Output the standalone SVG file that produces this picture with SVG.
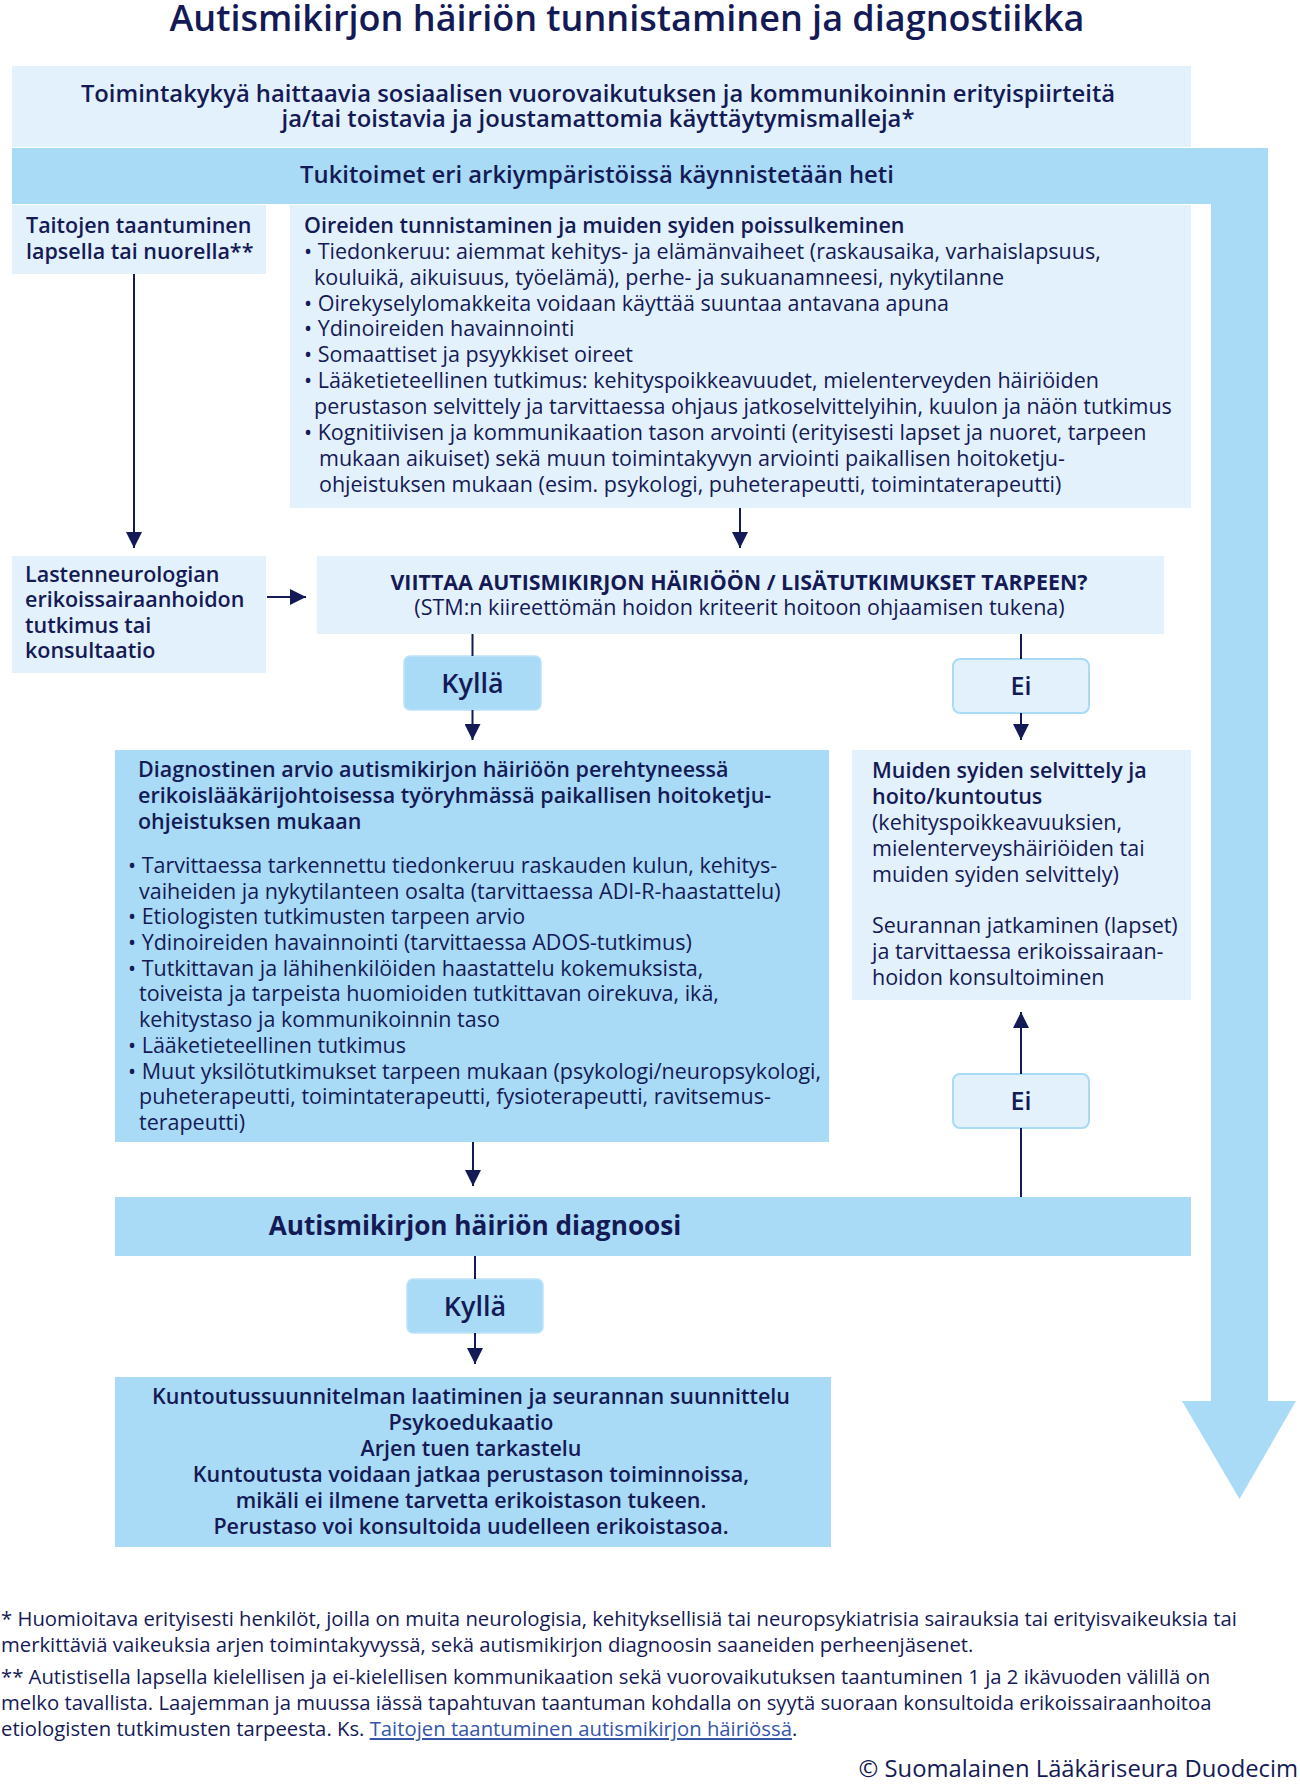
<svg xmlns="http://www.w3.org/2000/svg" width="1300" height="1784" viewBox="0 0 1300 1784">
<style>
text{font-family:"Open Sans","Noto Sans","Liberation Sans",sans-serif;fill:#141a55}
.t{font-size:36px;font-weight:600}
.b{font-weight:600}
.bb{font-weight:700}
.m{font-size:21.5px}
.big{font-size:23.8px;font-weight:600}
.c{text-anchor:middle}
.lt{fill:#e3f1fc}
.md{fill:#a9daf6}
.line{stroke:#141a55;stroke-width:2;fill:none}
.fn{font-size:20.3px}
.lnk{fill:#3556a8;text-decoration:underline}
</style>
<defs>
<marker id="ah" viewBox="0 0 16 16" refX="16" refY="8" markerWidth="16" markerHeight="16" markerUnits="userSpaceOnUse" orient="auto">
<path d="M0,0 L16,8 L0,16 Z" fill="#141a55"/>
</marker>
</defs>
<rect width="1300" height="1784" fill="#ffffff"/>
<text class="t c" x="627" y="31">Autismikirjon häiriön tunnistaminen ja diagnostiikka</text>

<g id="top">
<rect class="lt" x="12" y="66" width="1179" height="81"/>
<text class="big c" x="598" y="102">Toimintakykyä haittaavia sosiaalisen vuorovaikutuksen ja kommunikoinnin erityispiirteitä</text>
<text class="big c" x="598" y="127">ja/tai toistavia ja joustamattomia käyttäytymismalleja*</text>
</g>

<g id="tukitoimet">
<path class="md" d="M12,148 H1268 V1401 H1296 L1239.5,1499 L1182,1401 H1211 V204 H12 Z"/>
<text class="big c" x="597" y="182.5">Tukitoimet eri arkiympäristöissä käynnistetään heti</text>
</g>

<g id="taitojen">
<rect class="lt" x="12" y="205" width="254" height="69"/>
<text class="b m" x="26" y="233">Taitojen taantuminen</text>
<text class="b m" x="26" y="259">lapsella tai nuorella**</text>
</g>

<g id="oireiden">
<rect class="lt" x="290" y="205" width="901" height="303"/>
<text class="m" x="304" y="233"><tspan class="b">Oireiden tunnistaminen ja muiden syiden poissulkeminen</tspan>
<tspan x="304" y="259">• Tiedonkeruu: aiemmat kehitys- ja elämänvaiheet (raskausaika, varhaislapsuus,</tspan>
<tspan x="314" y="285">kouluikä, aikuisuus, työelämä), perhe- ja sukuanamneesi, nykytilanne</tspan>
<tspan x="304" y="311">• Oirekyselylomakkeita voidaan käyttää suuntaa antavana apuna</tspan>
<tspan x="304" y="336">• Ydinoireiden havainnointi</tspan>
<tspan x="304" y="362">• Somaattiset ja psyykkiset oireet</tspan>
<tspan x="304" y="388">• Lääketieteellinen tutkimus: kehityspoikkeavuudet, mielenterveyden häiriöiden</tspan>
<tspan x="314" y="414">perustason selvittely ja tarvittaessa ohjaus jatkoselvittelyihin, kuulon ja näön tutkimus</tspan>
<tspan x="304" y="440">• Kognitiivisen ja kommunikaation tason arvointi (erityisesti lapset ja nuoret, tarpeen</tspan>
<tspan x="319" y="466">mukaan aikuiset) sekä muun toimintakyvyn arviointi paikallisen hoitoketju-</tspan>
<tspan x="319" y="492">ohjeistuksen mukaan (esim. psykologi, puheterapeutti, toimintaterapeutti)</tspan></text>
</g>

<g id="lastenneurologia">
<rect class="lt" x="12" y="556" width="254" height="117"/>
<text class="b m" x="25" y="582">Lastenneurologian</text>
<text class="b m" x="25" y="607">erikoissairaanhoidon</text>
<text class="b m" x="25" y="633">tutkimus tai</text>
<text class="b m" x="25" y="658">konsultaatio</text>
</g>

<g id="viittaa">
<rect class="lt" x="317" y="556" width="847" height="78"/>
<text class="bb c" x="739" y="590" font-size="21.4">VIITTAA AUTISMIKIRJON HÄIRIÖÖN / LISÄTUTKIMUKSET TARPEEN?</text>
<text class="m c" x="739.5" y="615">(STM:n kiireettömän hoidon kriteerit hoitoon ohjaamisen tukena)</text>
</g>

<g id="kylla1">
<rect x="404" y="656" width="137" height="54" rx="6" fill="#a9daf6" stroke="#bde3f9" stroke-width="1.5"/>
<text class="c" x="472.5" y="693" font-size="27" font-weight="600">Kyllä</text>
</g>

<g id="ei1">
<rect x="953" y="659" width="136" height="54" rx="7" fill="#e3f1fc" stroke="#a9daf6" stroke-width="2"/>
<text class="c b" x="1021" y="695" font-size="25">Ei</text>
</g>

<g id="diagnostinen">
<rect class="md" x="115" y="750" width="714" height="392"/>
<text class="m" x="138" y="777"><tspan class="b">Diagnostinen arvio autismikirjon häiriöön perehtyneessä</tspan>
<tspan class="b" x="138" y="803">erikoislääkärijohtoisessa työryhmässä paikallisen hoitoketju-</tspan>
<tspan class="b" x="138" y="829">ohjeistuksen mukaan</tspan>
<tspan x="128" y="873">• Tarvittaessa tarkennettu tiedonkeruu raskauden kulun, kehitys-</tspan>
<tspan x="139" y="899">vaiheiden ja nykytilanteen osalta (tarvittaessa ADI-R-haastattelu)</tspan>
<tspan x="128" y="924">• Etiologisten tutkimusten tarpeen arvio</tspan>
<tspan x="128" y="950">• Ydinoireiden havainnointi (tarvittaessa ADOS-tutkimus)</tspan>
<tspan x="128" y="976">• Tutkittavan ja lähihenkilöiden haastattelu kokemuksista,</tspan>
<tspan x="139" y="1001">toiveista ja tarpeista huomioiden tutkittavan oirekuva, ikä,</tspan>
<tspan x="139" y="1027">kehitystaso ja kommunikoinnin taso</tspan>
<tspan x="128" y="1053">• Lääketieteellinen tutkimus</tspan>
<tspan x="128" y="1079">• Muut yksilötutkimukset tarpeen mukaan (psykologi/neuropsykologi,</tspan>
<tspan x="139" y="1104">puheterapeutti, toimintaterapeutti, fysioterapeutti, ravitsemus-</tspan>
<tspan x="139" y="1130">terapeutti)</tspan></text>
</g>

<g id="muiden">
<rect class="lt" x="852" y="750" width="339" height="250"/>
<text class="m" x="872" y="778"><tspan class="b">Muiden syiden selvittely ja</tspan>
<tspan class="b" x="872" y="804">hoito/kuntoutus</tspan>
<tspan x="872" y="830">(kehityspoikkeavuuksien,</tspan>
<tspan x="872" y="856">mielenterveyshäiriöiden tai</tspan>
<tspan x="872" y="882">muiden syiden selvittely)</tspan>
<tspan x="872" y="933">Seurannan jatkaminen (lapset)</tspan>
<tspan x="872" y="959">ja tarvittaessa erikoissairaan-</tspan>
<tspan x="872" y="985">hoidon konsultoiminen</tspan></text>
</g>

<g id="ei2">
<rect x="953" y="1074" width="136" height="54" rx="7" fill="#e3f1fc" stroke="#a9daf6" stroke-width="2"/>
<text class="c b" x="1021" y="1110" font-size="25">Ei</text>
</g>

<g id="diagnoosi">
<rect class="md" x="115" y="1197" width="1076" height="59"/>
<text class="bb c" x="475" y="1235" font-size="26.2">Autismikirjon häiriön diagnoosi</text>
</g>

<g id="kylla2">
<rect x="407" y="1279" width="136" height="54" rx="6" fill="#a9daf6" stroke="#bde3f9" stroke-width="1.5"/>
<text class="c" x="475" y="1316" font-size="27" font-weight="600">Kyllä</text>
</g>

<g id="kuntoutus">
<rect class="md" x="115" y="1377" width="716" height="170"/>
<text class="b m c" x="471" y="1404">Kuntoutussuunnitelman laatiminen ja seurannan suunnittelu</text>
<text class="b m c" x="471" y="1430">Psykoedukaatio</text>
<text class="b m c" x="471" y="1456">Arjen tuen tarkastelu</text>
<text class="b m c" x="471" y="1482">Kuntoutusta voidaan jatkaa perustason toiminnoissa,</text>
<text class="b m c" x="471" y="1508">mikäli ei ilmene tarvetta erikoistason tukeen.</text>
<text class="b m c" x="471" y="1534">Perustaso voi konsultoida uudelleen erikoistasoa.</text>
</g>

<g id="connectors">
<line class="line" x1="134" y1="274" x2="134" y2="548" marker-end="url(#ah)"/>
<line class="line" x1="740" y1="508" x2="740" y2="548" marker-end="url(#ah)"/>
<line class="line" x1="267" y1="597" x2="306" y2="597" marker-end="url(#ah)"/>
<line class="line" x1="472.5" y1="634" x2="472.5" y2="656"/>
<line class="line" x1="472.5" y1="710" x2="472.5" y2="740" marker-end="url(#ah)"/>
<line class="line" x1="1021" y1="634" x2="1021" y2="659"/>
<line class="line" x1="1021" y1="713" x2="1021" y2="740" marker-end="url(#ah)"/>
<line class="line" x1="473" y1="1142" x2="473" y2="1186" marker-end="url(#ah)"/>
<line class="line" x1="1021" y1="1197" x2="1021" y2="1128"/>
<line class="line" x1="1021" y1="1074" x2="1021" y2="1012" marker-end="url(#ah)"/>
<line class="line" x1="475" y1="1256" x2="475" y2="1279"/>
<line class="line" x1="475" y1="1333" x2="475" y2="1364" marker-end="url(#ah)"/>
</g>

<g id="footnotes">
<text class="fn" x="1" y="1626">* Huomioitava erityisesti henkilöt, joilla on muita neurologisia, kehityksellisiä tai neuropsykiatrisia sairauksia tai erityisvaikeuksia tai</text>
<text class="fn" x="1" y="1652">merkittäviä vaikeuksia arjen toimintakyvyssä, sekä autismikirjon diagnoosin saaneiden perheenjäsenet.</text>
<text class="fn" x="1" y="1684">** Autistisella lapsella kielellisen ja ei-kielellisen kommunikaation sekä vuorovaikutuksen taantuminen 1 ja 2 ikävuoden välillä on</text>
<text class="fn" x="1" y="1710">melko tavallista. Laajemman ja muussa iässä tapahtuvan taantuman kohdalla on syytä suoraan konsultoida erikoissairaanhoitoa</text>
<text class="fn" x="1" y="1736">etiologisten tutkimusten tarpeesta. Ks. <tspan class="lnk">Taitojen taantuminen autismikirjon häiriössä</tspan>.</text>
<text x="1298" y="1777" font-size="23.8" text-anchor="end">© Suomalainen Lääkäriseura Duodecim</text>
</g>
</svg>
